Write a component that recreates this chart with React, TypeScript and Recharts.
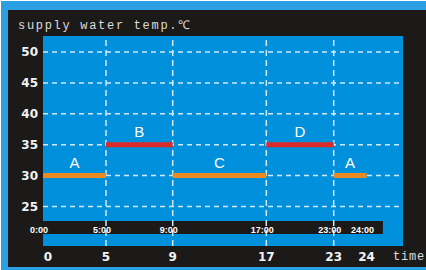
import React from "react";
import {
    ComposedChart,
    Line,
    XAxis,
    YAxis,
    CartesianGrid,
    ReferenceLine,
    ReferenceArea,
    ReferenceDot,
} from "recharts";

// bottom axis (hours) and the clock strip above it
const hourTicks = [0, 5, 9, 17, 23, 24];
const clockLabels = ["0:00", "5:00", "9:00", "17:00", "23:00", "24:00"];
const tempTicks = [25, 30, 35, 40, 45, 50];

// operating periods
const periodName = ["A", "B", "C", "D", "A"];
const periodStart = [0, 5, 9, 17, 23];
const periodEnd = [5, 9, 17, 23, 24];
const periodTemp = [30, 35, 30, 35, 30];
const switchHours = [5, 9, 17, 23];

const periodColor: Record<string, string> = {
    A: "#ec8a22",
    B: "#dc2a2a",
    C: "#ec8a22",
    D: "#dc2a2a",
};

const BLACK = "#1c1a19";
const PLOT_BLUE = "#0090dc";
const GRID = "#cfe9f9";
const TICK_FONT = "'DejaVu Sans', sans-serif";

// the time axis in the picture is not linear: where each tick hour sits (0..1 of plot width)
const HOUR_SPOTS = [0, 0.175, 0.3603, 0.6203, 0.8075, 0.8986];

function hourScale(): any {
    let dom = [0, 24];
    let rng = [0, 1];
    const frac = (h: number) => {
        let i = 0;
        while (i < hourTicks.length - 2 && h > hourTicks[i + 1]) i++;
        const t = (h - hourTicks[i]) / (hourTicks[i + 1] - hourTicks[i]);
        return HOUR_SPOTS[i] + t * (HOUR_SPOTS[i + 1] - HOUR_SPOTS[i]);
    };
    const s: any = (h: number) => rng[0] + frac(Number(h)) * (rng[1] - rng[0]);
    s.domain = (d?: number[]) => (d ? ((dom = [...d]), s) : [...dom]);
    s.range = (r?: number[]) => (r ? ((rng = [...r]), s) : [...rng]);
    s.ticks = () => hourTicks;
    s.nice = () => s;
    s.clamp = () => s;
    s.invert = (px: number) => {
        const f = (px - rng[0]) / (rng[1] - rng[0]);
        let i = 0;
        while (i < HOUR_SPOTS.length - 2 && f > HOUR_SPOTS[i + 1]) i++;
        const t = (f - HOUR_SPOTS[i]) / (HOUR_SPOTS[i + 1] - HOUR_SPOTS[i]);
        return hourTicks[i] + t * (hourTicks[i + 1] - hourTicks[i]);
    };
    s.copy = () => hourScale().domain(dom).range(rng);
    return s;
}

const HourTick = ({ x, y, payload }: any) => (
    <text
        x={x + (payload.value === 0 ? 5 : 0)}
        y={y}
        dy="0.71em"
        textAnchor="middle"
        fill="#f2f2f2"
        fontSize={12}
        fontWeight="bold"
        fontFamily={TICK_FONT}
    >
        {payload.value}
    </text>
);

const ClockTick = ({ x, y, payload }: any) => (
    <text
        x={x - 4}
        y={y}
        textAnchor="middle"
        fill="#ffffff"
        fontSize={9}
        fontWeight="bold"
        fontFamily="'Liberation Sans', Arial, sans-serif"
    >
        {clockLabels[hourTicks.indexOf(payload.value)]}
    </text>
);

export default function App() {
    return (
        <div style={{ position: "absolute", left: 0, top: 0, width: 426, height: 270, background: "#fff" }}>
            <div style={{ position: "absolute", left: 1, top: 1, width: 425, height: 269, background: "#2a9fe2" }} />
            <div style={{ position: "absolute", left: 8, top: 10, width: 418, height: 257, background: BLACK }} />
            <div
                style={{
                    position: "absolute",
                    left: 18,
                    top: 16,
                    fontFamily: "'Liberation Mono', monospace",
                    fontSize: 12,
                    letterSpacing: 1.7,
                    color: "#dcdcdc",
                    whiteSpace: "nowrap",
                }}
            >
                supply water temp.℃
            </div>
            <div
                style={{
                    position: "absolute",
                    left: 393,
                    top: 250,
                    fontFamily: "'Liberation Mono', monospace",
                    fontSize: 12,
                    letterSpacing: 0.8,
                    color: "#dcdcdc",
                    whiteSpace: "nowrap",
                }}
            >
                time
            </div>
            <div style={{ position: "absolute", left: 0, top: 0 }}>
                <ComposedChart width={426} height={270} margin={{ top: 36, right: 23, left: 8, bottom: 0 }}>
                    {/* plot background only */}
                    <CartesianGrid
                        horizontal={false}
                        vertical={false}
                        fill={PLOT_BLUE}
                        fillOpacity={1}
                        stroke="none"
                    />
                    <CartesianGrid
                        vertical={false}
                        syncWithTicks
                        stroke={GRID}
                        strokeWidth={1.5}
                        strokeDasharray="5 4"
                    />
                    <XAxis
                        xAxisId="hour"
                        type="number"
                        dataKey="hour"
                        scale={hourScale()}
                        domain={[0, 24]}
                        allowDataOverflow
                        ticks={hourTicks}
                        interval={0}
                        height={24}
                        axisLine={false}
                        tickLine={false}
                        tickSize={0}
                        tickMargin={6}
                        tick={<HourTick />}
                    />
                    <XAxis
                        xAxisId="clock"
                        type="number"
                        dataKey="hour"
                        scale={hourScale()}
                        domain={[0, 24]}
                        allowDataOverflow
                        ticks={hourTicks}
                        interval={0}
                        orientation="bottom"
                        mirror
                        axisLine={false}
                        tickLine={false}
                        tickSize={0}
                        tickMargin={13}
                        tick={<ClockTick />}
                    />
                    <YAxis
                        type="number"
                        domain={[18.6, 52.6]}
                        allowDataOverflow
                        ticks={tempTicks}
                        interval={0}
                        width={35}
                        axisLine={false}
                        tickLine={false}
                        tickSize={0}
                        tickMargin={5}
                        tick={{ fill: "#f2f2f2", fontSize: 12, fontWeight: "bold", fontFamily: TICK_FONT }}
                    />
                    {switchHours.map((h) => (
                        <ReferenceLine
                            key={h}
                            xAxisId="hour"
                            x={h}
                            stroke={GRID}
                            strokeWidth={1.5}
                            strokeDasharray="6 4"
                        />
                    ))}
                    {/* black clock strip */}
                    <ReferenceArea
                        xAxisId="hour"
                        x1={0}
                        x2={24.5}
                        y1={20.55}
                        y2={22.65}
                        fill={BLACK}
                        fillOpacity={1}
                        stroke="none"
                    />
                    {periodName.map((name, i) => (
                        <Line
                            key={"l" + i}
                            xAxisId="hour"
                            data={[
                                { hour: periodStart[i], temp: periodTemp[i] },
                                { hour: periodEnd[i], temp: periodTemp[i] },
                            ]}
                            dataKey="temp"
                            stroke={periodColor[name]}
                            strokeWidth={5}
                            dot={false}
                            activeDot={false}
                            isAnimationActive={false}
                        />
                    ))}
                    {periodName.map((name, i) => (
                        <ReferenceDot
                            key={"d" + i}
                            xAxisId="hour"
                            x={(periodStart[i] + periodEnd[i]) / 2}
                            y={periodTemp[i]}
                            r={0}
                            fill="none"
                            stroke="none"
                            label={{
                                value: name,
                                position: "top",
                                offset: 8,
                                fill: "#ffffff",
                                fontSize: 15,
                                fontFamily: "'Liberation Sans', Arial, sans-serif",
                            }}
                        />
                    ))}
                </ComposedChart>
            </div>
        </div>
    );
}
